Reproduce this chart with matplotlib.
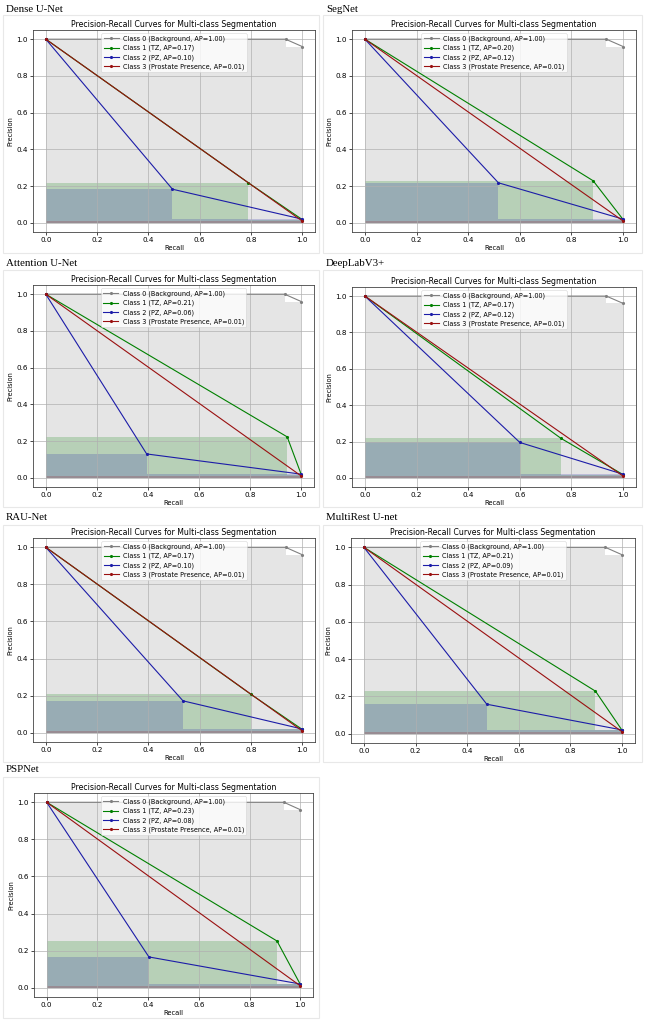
import matplotlib
matplotlib.use("Agg")
import matplotlib.pyplot as plt
from matplotlib.patches import Rectangle

# ---------------- data ----------------
models = ["Dense U-Net", "SegNet", "Attention U-Net", "DeepLabV3+",
          "RAU-Net", "MultiRest U-net", "PSPNet"]

class_names = ["Class 0 (Background", "Class 1 (TZ", "Class 2 (PZ",
               "Class 3 (Prostate Presence"]

# average precision per model per class
ap_values = [
    [1.00, 0.17, 0.10, 0.01],
    [1.00, 0.20, 0.12, 0.01],
    [1.00, 0.21, 0.06, 0.01],
    [1.00, 0.17, 0.12, 0.01],
    [1.00, 0.17, 0.10, 0.01],
    [1.00, 0.21, 0.09, 0.01],
    [1.00, 0.23, 0.08, 0.01],
]

# PR curve points (recall decreasing, as returned by sklearn)
bg_recall = [1.0, 0.935, 0.0]
bg_precision = [0.96, 1.0, 1.0]

tz_recall = [[1.0, 0.79, 0.0], [1.0, 0.884, 0.0], [1.0, 0.945, 0.0],
             [1.0, 0.76, 0.0], [1.0, 0.80, 0.0], [1.0, 0.897, 0.0],
             [1.0, 0.908, 0.0]]
tz_precision = [[0.018, 0.218, 1.0], [0.018, 0.229, 1.0], [0.018, 0.223, 1.0],
                [0.018, 0.217, 1.0], [0.018, 0.207, 1.0], [0.018, 0.228, 1.0],
                [0.018, 0.252, 1.0]]

pz_recall = [[1.0, 0.494, 0.0], [1.0, 0.517, 0.0], [1.0, 0.395, 0.0],
             [1.0, 0.60, 0.0], [1.0, 0.535, 0.0], [1.0, 0.476, 0.0],
             [1.0, 0.403, 0.0]]
pz_precision = [[0.02, 0.183, 1.0], [0.02, 0.218, 1.0], [0.02, 0.130, 1.0],
                [0.02, 0.195, 1.0], [0.02, 0.172, 1.0], [0.02, 0.158, 1.0],
                [0.02, 0.166, 1.0]]

pp_recall = [1.0, 0.0]
pp_precision = [0.01, 1.0]

ticks = [0.0, 0.2, 0.4, 0.6, 0.8, 1.0]
colors = ["gray", "green", "#1c1ca8", "#9a1010"]

# ---------------- layout (pixels) ----------------
W, H = 645, 1023
# (frame_x0, frame_x1, title_y, frame_top, frame_bottom, ax_left, ax_right, ax_top, ax_bottom)
layout = [
    (3, 319, 9, 15, 253, 33, 315, 30, 232),
    (323, 642, 9, 15, 253, 352, 636, 30, 232),
    (3, 319, 264, 270, 507, 33, 314, 285, 487),
    (323, 642, 264, 270, 507, 352, 636, 287, 487),
    (3, 319, 518, 525, 762, 33, 315, 538, 742),
    (323, 642, 518, 525, 762, 351, 635, 538, 743),
    (3, 319, 769, 777, 1018, 34, 313, 793, 997),
]

fig = plt.figure(figsize=(W / 100, H / 100), dpi=100)
fig.patch.set_facecolor("white")

for i, name in enumerate(models):
    fx0, fx1, ty, ft, fb, al, ar, at, ab = layout[i]
    # screenshot frame
    fig.patches.append(Rectangle((fx0 / W, 1 - fb / H), (fx1 - fx0) / W, (fb - ft) / H,
                                 transform=fig.transFigure, fill=False,
                                 edgecolor="#e8e8e8", linewidth=0.8))
    fig.text(fx0 / W + 3 / W, 1 - ty / H, name, family="Liberation Serif",
             fontsize=7.8, va="center", ha="left")

    ax = fig.add_axes([al / W, 1 - ab / H, (ar - al) / W, (ab - at) / H])
    curves = [
        (bg_recall, bg_precision),
        (tz_recall[i], tz_precision[i]),
        (pz_recall[i], pz_precision[i]),
        (pp_recall, pp_precision),
    ]
    for c, (r, p) in enumerate(curves):
        ax.plot(r, p, marker=".", markersize=2.5, linewidth=0.8, color=colors[c],
                label=f"{class_names[c]}, AP={ap_values[i][c]:.2f})")
        ax.fill_between(r, p, step="post", alpha=0.2, color=colors[c], linewidth=0)

    ax.set_title("Precision-Recall Curves for Multi-class Segmentation",
                 fontsize=5.6, pad=2.5)
    ax.set_xlabel("Recall", fontsize=4.8, labelpad=1.5)
    ax.set_ylabel("Precision", fontsize=4.8, labelpad=2)
    ax.set_xticks(ticks)
    ax.set_yticks(ticks)
    ax.tick_params(labelsize=5.2, length=2, width=0.5, pad=1.5)
    ax.grid(True, color="#b0b0b0", linewidth=0.5)
    for s in ax.spines.values():
        s.set_linewidth(0.6)
        s.set_color("#444444")
    leg = ax.legend(loc="upper center", fontsize=4.7, frameon=True,
                    borderpad=0.35, labelspacing=0.42, handlelength=2.3,
                    handletextpad=0.7, bbox_to_anchor=(0.5, 1.0))
    leg.get_frame().set_linewidth(0.4)

fig.savefig("out.png", dpi=100, facecolor="white")
